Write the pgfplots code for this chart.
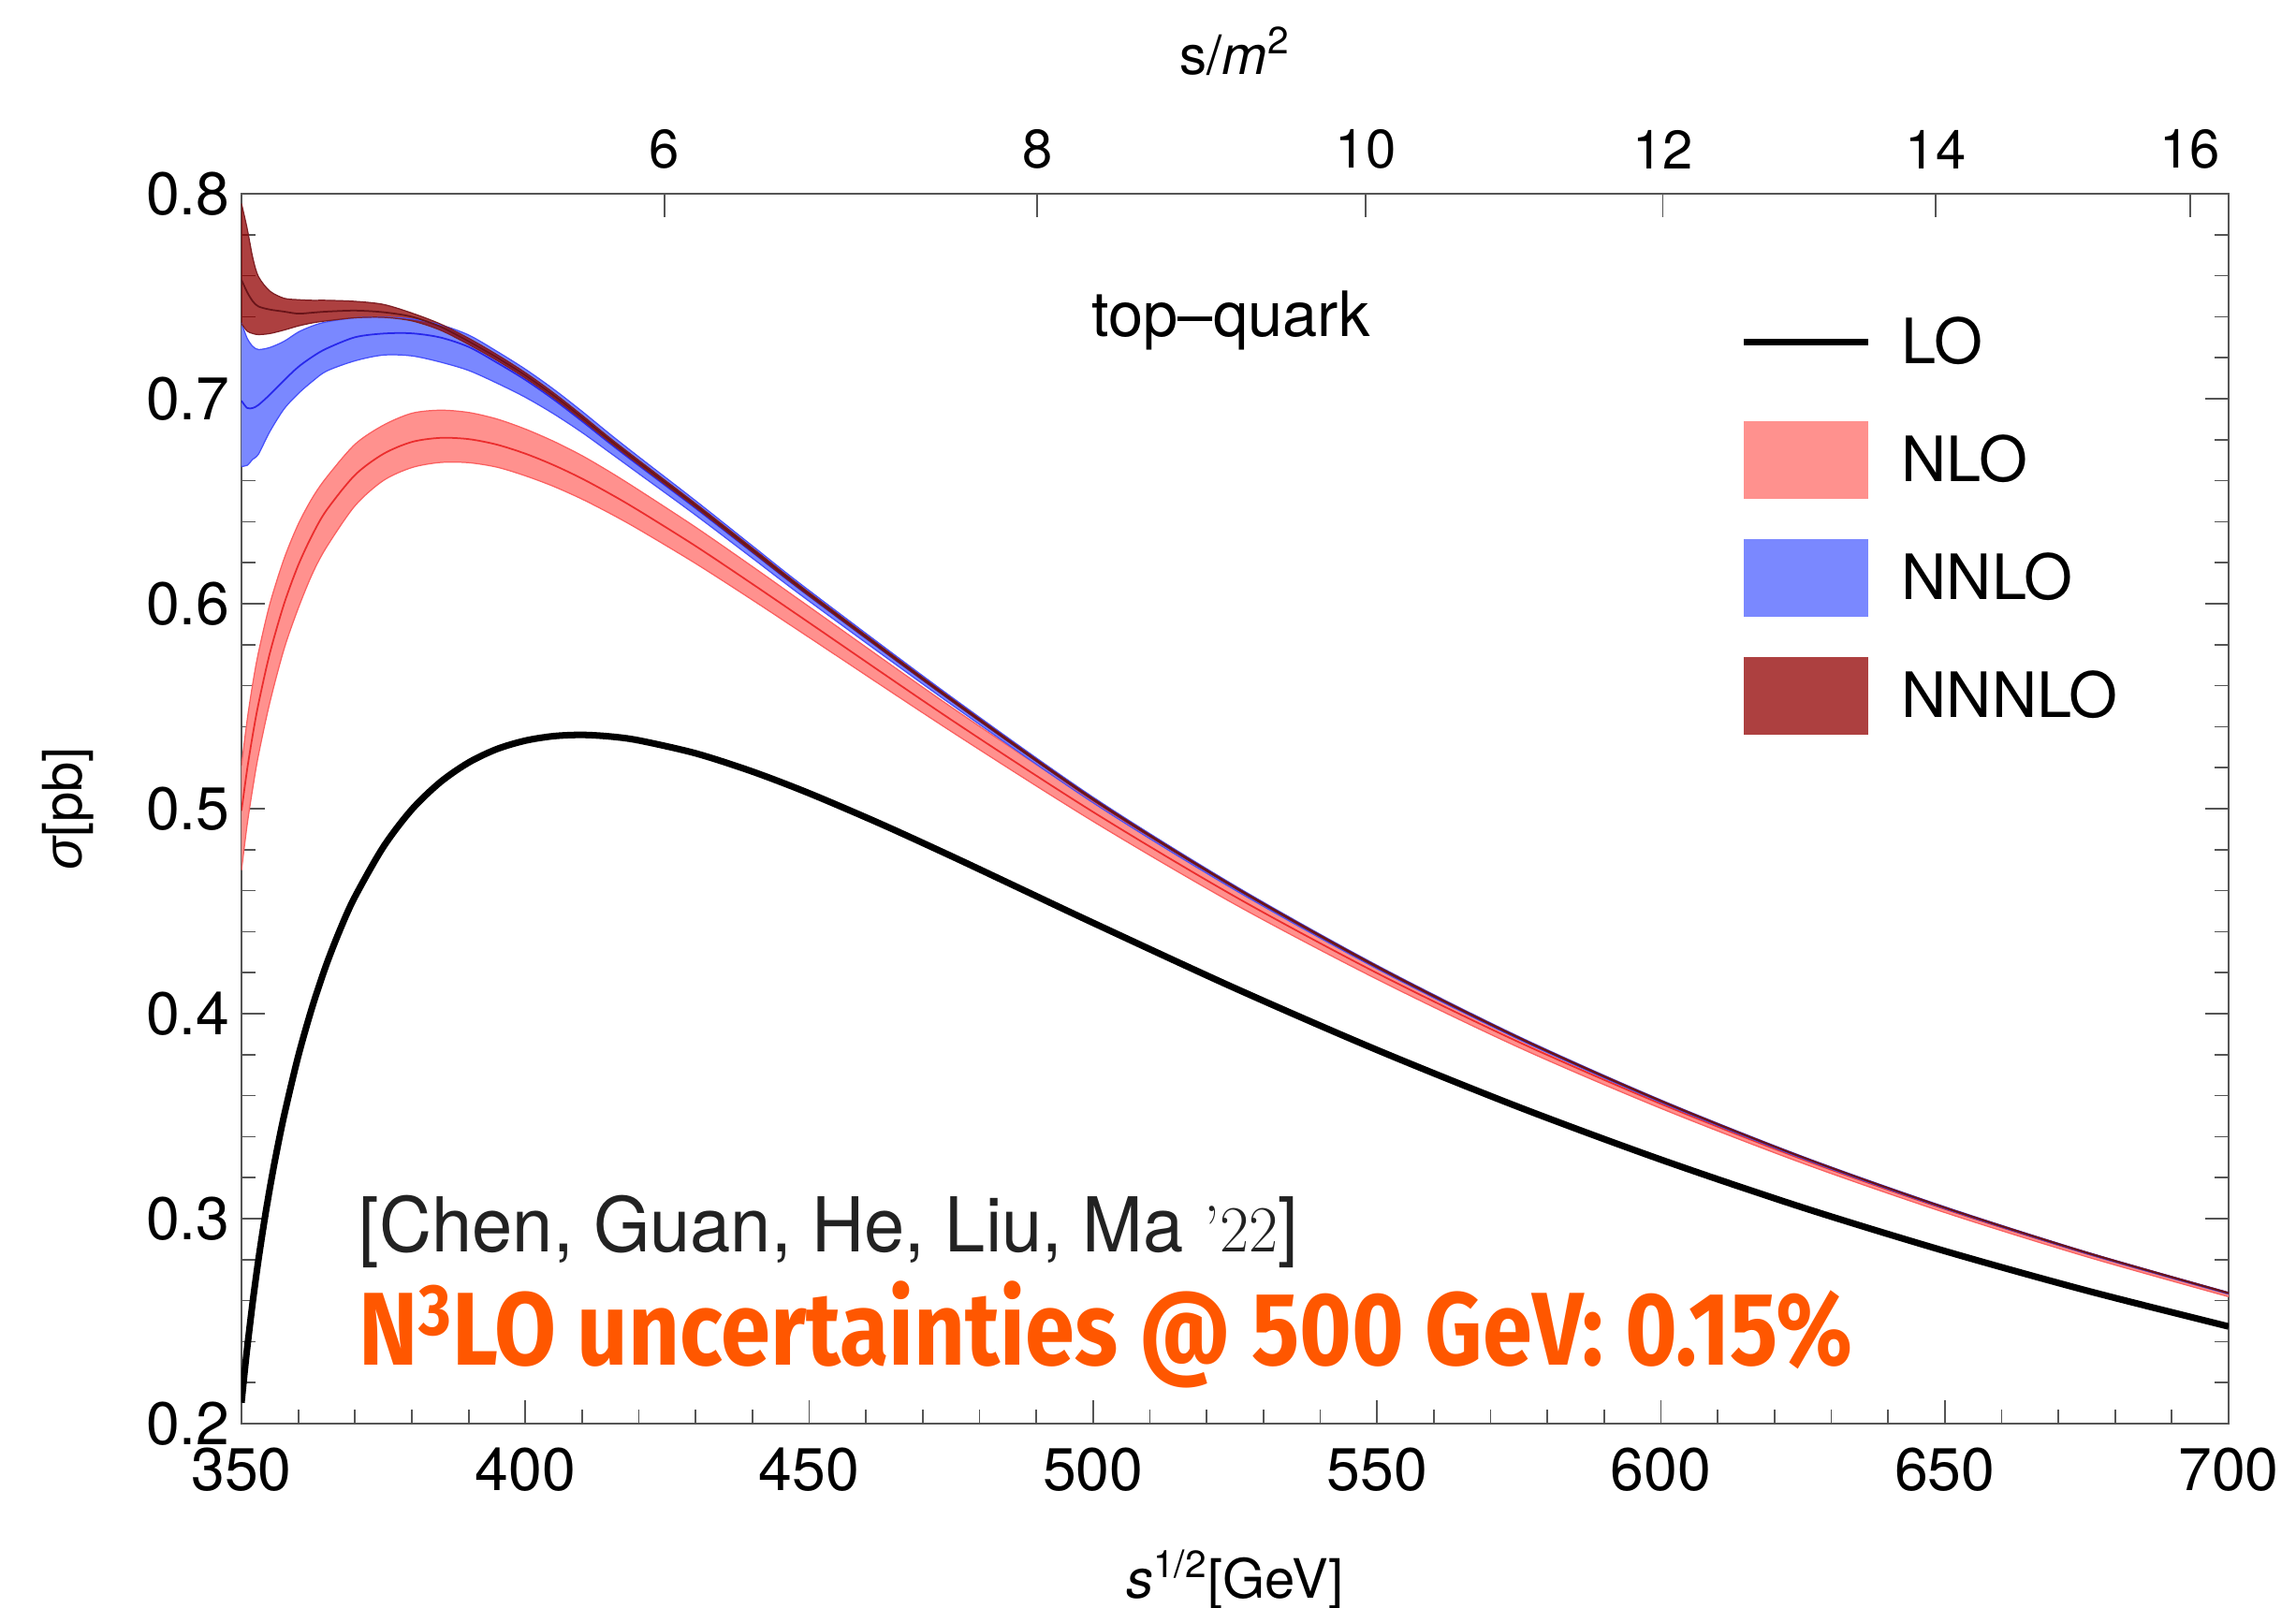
\documentclass[border=0pt]{standalone}
\usepackage{pgfplots}
\pgfplotsset{compat=1.18}
\usepackage{pgfplotstable}
\usepgfplotslibrary{fillbetween}
\usepackage{graphicx}
\usepackage{fontspec}
\setsansfont{TeX Gyre Heros}
\renewcommand*{\familydefault}{\sfdefault}
\newfontfamily\greekfont{Liberation Sans}
\newfontfamily\notefont{Fira Sans}

\definecolor{nlofill}{RGB}{255,145,142}
\definecolor{nloedge}{RGB}{250,95,95}
\definecolor{nloline}{RGB}{235,45,45}
\definecolor{nnlofill}{RGB}{122,136,255}
\definecolor{nnloedge}{RGB}{70,80,250}
\definecolor{nnloline}{RGB}{40,40,235}
\definecolor{nthfill}{RGB}{146,0,0}
\definecolor{nthedge}{RGB}{125,30,35}
\definecolor{nthline}{RGB}{105,20,25}
\definecolor{framegray}{RGB}{85,85,85}
\definecolor{noteorange}{RGB}{255,87,0}
\definecolor{citegray}{RGB}{34,34,34}

% Born cross section
\pgfplotstableread{
x lo
350 0.2102
350.5 0.2240
351 0.2368
352 0.2598
353 0.2802
354 0.2984
355 0.3149
356 0.3299
357.5 0.3502
360 0.3793
362.5 0.4036
365 0.4243
367.5 0.4419
370 0.4571
375 0.4814
380 0.4996
385 0.5129
390 0.5225
395 0.5291
400 0.5332
405 0.5354
410 0.5360
415 0.5352
420 0.5333
430 0.5270
440 0.5181
450 0.5075
462.5 0.4927
475 0.4769
487.5 0.4606
500 0.4443
525 0.4124
550 0.3823
575 0.3544
600 0.3288
625 0.3054
650 0.2842
675 0.2649
700 0.2474
}\lotable

% higher orders: lower edge, central value, upper edge of the scale band
\pgfplotstableread{
x nlol nlo nlou nnlol nnlo nnlou nthl nth nthu
350 0.4700 0.4990 0.5210 0.6670 0.6990 0.7370 0.7367 0.7580 0.7952
351 0.4922 0.5192 0.5432 0.6675 0.6955 0.7295 0.7330 0.7520 0.7830
352 0.5103 0.5363 0.5613 0.6705 0.6955 0.7255 0.7318 0.7475 0.7686
353 0.5263 0.5513 0.5763 0.6730 0.6970 0.7240 0.7313 0.7450 0.7595
355 0.5519 0.5759 0.5999 0.6840 0.7020 0.7250 0.7318 0.7435 0.7525
357.5 0.5779 0.5999 0.6219 0.6950 0.7090 0.7280 0.7335 0.7425 0.7490
360 0.5978 0.6188 0.6388 0.7025 0.7155 0.7325 0.7355 0.7415 0.7483
362.5 0.6147 0.6337 0.6517 0.7085 0.7205 0.7355 0.7370 0.7420 0.7480
365 0.6277 0.6457 0.6617 0.7135 0.7245 0.7375 0.7380 0.7425 0.7480
370 0.6478 0.6628 0.6778 0.7185 0.7300 0.7395 0.7395 0.7430 0.7475
375 0.6601 0.6731 0.6871 0.7213 0.7318 0.7398 0.7397 0.7422 0.7460
380 0.6664 0.6789 0.6929 0.7209 0.7319 0.7389 0.7380 0.7400 0.7418
385 0.6689 0.6809 0.6944 0.7179 0.7299 0.7361 0.7335 0.7352 0.7365
390 0.6688 0.6803 0.6933 0.7138 0.7253 0.7311 0.7265 0.7280 0.7295
395 0.6666 0.6776 0.6901 0.7076 0.7176 0.7231 0.7187 0.7201 0.7215
400 0.6624 0.6732 0.6852 0.7007 0.7092 0.7144 0.7101 0.7114 0.7127
405 0.6572 0.6676 0.6792 0.6926 0.6996 0.7046 0.7004 0.7016 0.7028
410 0.6510 0.6610 0.6722 0.6835 0.6890 0.6938 0.6897 0.6908 0.6919
415 0.6439 0.6535 0.6641 0.6735 0.6780 0.6825 0.6786 0.6796 0.6806
420 0.6362 0.6454 0.6554 0.6634 0.6674 0.6716 0.6679 0.6689 0.6699
430 0.6196 0.6281 0.6373 0.6432 0.6466 0.6502 0.6470 0.6479 0.6488
440 0.6018 0.6096 0.6181 0.6222 0.6251 0.6282 0.6253 0.6262 0.6271
450 0.5835 0.5907 0.5985 0.6012 0.6037 0.6064 0.6038 0.6046 0.6054
475 0.5377 0.5434 0.5496 0.5509 0.5527 0.5546 0.5527 0.5533 0.5539
500 0.4938 0.4984 0.5034 0.5029 0.5042 0.5056 0.5041 0.5046 0.5051
525 0.4533 0.4571 0.4612 0.4603 0.4613 0.4624 0.4612 0.4616 0.4620
550 0.4168 0.4198 0.4223 0.4219 0.4227 0.4236 0.4225 0.4229 0.4233
575 0.3835 0.3861 0.3879 0.3874 0.3881 0.3888 0.3879 0.3882 0.3885
600 0.3538 0.3560 0.3574 0.3567 0.3573 0.3579 0.3571 0.3574 0.3577
625 0.3270 0.3289 0.3300 0.3293 0.3298 0.3303 0.3297 0.3299 0.3301
650 0.3030 0.3047 0.3056 0.3049 0.3053 0.3058 0.3052 0.3054 0.3056
675 0.2814 0.2829 0.2836 0.2829 0.2833 0.2837 0.2832 0.2834 0.2836
700 0.2619 0.2633 0.2639 0.2632 0.2636 0.2640 0.2635 0.2637 0.2639
}\bands

\begin{document}
\begin{tikzpicture}
\begin{axis}[
  scale only axis, width=212.3mm, height=131.4mm,
  xmin=350, xmax=700, ymin=0.2, ymax=0.8,
  xtick={350,400,450,500,550,600,650,700},
  ytick={0.2,0.3,0.4,0.5,0.6,0.7,0.8},
  minor x tick num=4, minor y tick num=4,
  xtick pos=left, ytick pos=both,
  tick align=inside,
  major tick length=2.5mm, minor tick length=1.5mm,
  axis line style={framegray, line width=0.6pt},
  tick style={framegray, line width=0.5pt},
  /pgf/number format/assume math mode=true,
  ticklabel style={font=\fontsize{18.3}{21}\selectfont, text=black},
  xticklabel style={yshift=-1.3mm},
  yticklabel style={/pgf/number format/fixed, /pgf/number format/precision=1},
  xlabel={{\itshape s}\textsuperscript{1/2}[GeV]},
  ylabel={{\greekfont\itshape σ}[pb]},
  label style={font=\fontsize{16.5}{19}\selectfont},
  x label style={at={(axis description cs:0.5,-0.1416)}, anchor=base},
  y label style={at={(axis description cs:-0.0871,0.5)}, anchor=center},
  legend style={draw=none, fill=none, at={(axis description cs:0.7541,0.9113)},
    anchor=north west, font=\fontsize{19}{22}\selectfont,
    row sep=4.3mm, column sep=3.2mm, inner sep=0pt, nodes={inner sep=0pt}},
  legend cell align=left,
]

% NLO band
\addplot[name path=nlou, draw=none, smooth, forget plot] table[x=x, y=nlou]{\bands};
\addplot[name path=nlol, draw=none, smooth, forget plot] table[x=x, y=nlol]{\bands};
\addplot[fill=nlofill, draw=none, forget plot] fill between[of=nlou and nlol];
\addplot[nloedge, line width=0.35pt, smooth, forget plot] table[x=x, y=nlou]{\bands};
\addplot[nloedge, line width=0.35pt, smooth, forget plot] table[x=x, y=nlol]{\bands};
\addplot[nloline, line width=0.5pt, smooth, forget plot] table[x=x, y=nlo]{\bands};

% NNLO band
\addplot[name path=nnlou, draw=none, smooth, forget plot] table[x=x, y=nnlou]{\bands};
\addplot[name path=nnlol, draw=none, smooth, forget plot] table[x=x, y=nnlol]{\bands};
\addplot[fill=nnlofill, draw=none, forget plot] fill between[of=nnlou and nnlol];
\addplot[nnloedge, line width=0.35pt, smooth, forget plot] table[x=x, y=nnlou]{\bands};
\addplot[nnloedge, line width=0.35pt, smooth, forget plot] table[x=x, y=nnlol]{\bands};
\addplot[nnloline, line width=0.5pt, smooth, forget plot] table[x=x, y=nnlo]{\bands};

% NNNLO band
\addplot[name path=nthu, draw=none, smooth, forget plot] table[x=x, y=nthu]{\bands};
\addplot[name path=nthl, draw=none, smooth, forget plot] table[x=x, y=nthl]{\bands};
\addplot[fill=nthfill, fill opacity=0.75, draw=none, forget plot] fill between[of=nthu and nthl];
\addplot[nthedge, line width=0.35pt, smooth, forget plot] table[x=x, y=nthu]{\bands};
\addplot[nthedge, line width=0.35pt, smooth, forget plot] table[x=x, y=nthl]{\bands};
\addplot[nthline, line width=0.5pt, smooth, forget plot] table[x=x, y=nth]{\bands};

% LO
\addplot[black, line width=2pt, smooth, forget plot] table[x=x, y=lo]{\lotable};

\addlegendimage{legend image code/.code={
  \path[draw=none, fill=none] (0mm,-4.15mm) rectangle (13.3mm,4.15mm);
  \draw[black, line width=2pt] (0mm,0mm) -- (13.3mm,0mm);}}
\addlegendimage{legend image code/.code={
  \fill[draw=none, nlofill] (0mm,-4.15mm) rectangle (13.3mm,4.15mm);}}
\addlegendimage{legend image code/.code={
  \fill[draw=none, nnlofill] (0mm,-4.15mm) rectangle (13.3mm,4.15mm);}}
\addlegendimage{legend image code/.code={
  \fill[draw=none, nthfill, fill opacity=0.75] (0mm,-4.15mm) rectangle (13.3mm,4.15mm);}}
\legend{LO, NLO, NNLO, NNNLO}

\node[anchor=base west, inner sep=0pt, font=\fontsize{19}{22}\selectfont]
  at (axis description cs:0.4277,0.8836) {top–quark};
\node[anchor=base west, inner sep=0pt, text=citegray, font=\fontsize{23}{27}\selectfont]
  at (axis description cs:0.0589,0.1393)
  {\resizebox{100.3mm}{\height}{[Chen, Guan, He, Liu, Ma {\rmfamily\fontsize{20}{24}\selectfont ’22}]}};
\node[anchor=base west, inner sep=0pt, text=noteorange, font=\notefont\bfseries\fontsize{31.5}{36}\selectfont]
  at (axis description cs:0.0589,0.0479)
  {\resizebox{159.6mm}{\height}{N\textsuperscript{3}LO uncertainties @ 500 GeV: 0.15\%}};
\end{axis}

% upper scale in s/m^2
\begin{axis}[
  scale only axis, width=212.3mm, height=131.4mm,
  xmin=350, xmax=700, ymin=0.2, ymax=0.8,
  axis x line*=top, axis y line=none,
  xtick={424.50,490.17,548.02,600.33,648.43,693.20},
  xticklabels={6,8,10,12,14,16},
  tick align=inside, major tick length=2.5mm,
  axis line style={framegray, line width=0.6pt},
  tick style={framegray, line width=0.5pt},
  /pgf/number format/assume math mode=true,
  ticklabel style={font=\fontsize{16.5}{19}\selectfont, text=black},
  xticklabel style={yshift=1.4mm},
  xlabel={s/{\itshape m}\textsuperscript{2}},
  label style={font=\fontsize{16.5}{19}\selectfont},
  x label style={at={(axis description cs:0.5,1.1157)}, anchor=center},
]
\end{axis}

\pgfresetboundingbox
\path[use as bounding box] (-25.8mm,-19.6mm) rectangle (219.5mm,152.1mm);
\end{tikzpicture}
\end{document}
